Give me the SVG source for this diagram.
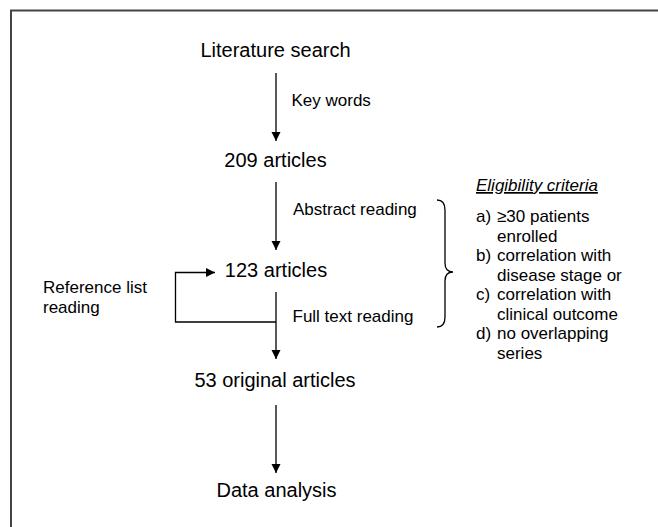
<svg xmlns="http://www.w3.org/2000/svg" width="658" height="527" viewBox="0 0 658 527">
<defs>
<style>
text{font-family:"Liberation Sans",Arial,sans-serif;fill:#000}
.big{font-size:20px;text-anchor:middle}
.sm{font-size:17px}
.conn{fill:none;stroke:#000;stroke-width:1.3}
</style>
<marker id="ah" markerUnits="userSpaceOnUse" markerWidth="10" markerHeight="10" viewBox="0 0 10 10" refX="9" refY="5" orient="auto">
<path d="M0,0.5 L9,5 L0,9.5 Z" fill="#000"/>
</marker>
</defs>
<rect width="658" height="527" fill="#fff"/>
<path d="M11,527 V10.5 H658" fill="none" stroke="#444" stroke-width="2"/>
<g id="connectors">
<path class="conn" d="M276,73 V141" marker-end="url(#ah)"/>
<path class="conn" d="M276,182 V250" marker-end="url(#ah)"/>
<path class="conn" d="M276,292 V359" marker-end="url(#ah)"/>
<path class="conn" d="M276,405 V473" marker-end="url(#ah)"/>
<path class="conn" d="M276,322 H175.5 V272.5 H215" marker-end="url(#ah)"/>
<path class="conn" d="M437,200 Q445,200 445,210 V263 Q445,272 453,272 Q445,272 445,281 V317 Q445,327 437,327" stroke-width="1"/>
</g>
<g id="literature-search"><text class="big" x="275.5" y="57">Literature search</text></g>
<g id="n209"><text class="big" x="275.5" y="166.5">209 articles</text></g>
<g id="n123"><text class="big" x="276" y="277">123 articles</text></g>
<g id="n53"><text class="big" x="275" y="387">53 original articles</text></g>
<g id="data-analysis"><text class="big" x="276.5" y="497">Data analysis</text></g>
<g id="labels">
<text class="sm" x="291.5" y="106">Key words</text>
<text class="sm" x="293" y="215">Abstract reading</text>
<text class="sm" x="292.5" y="322">Full text reading</text>
<text class="sm" x="43" y="293">Reference list</text>
<text class="sm" x="43" y="312.5">reading</text>
</g>
<g id="criteria">
<text class="sm" x="476" y="191" font-style="italic" text-decoration="underline">Eligibility criteria</text>
<text class="sm" x="476" y="222">a)</text><text class="sm" x="497" y="222">≥30 patients</text>
<text class="sm" x="497" y="241.5">enrolled</text>
<text class="sm" x="476" y="261">b)</text><text class="sm" x="497" y="261">correlation with</text>
<text class="sm" x="497" y="280.5">disease stage or</text>
<text class="sm" x="476" y="300">c)</text><text class="sm" x="497" y="300">correlation with</text>
<text class="sm" x="497" y="319.5">clinical outcome</text>
<text class="sm" x="476" y="339">d)</text><text class="sm" x="497" y="339">no overlapping</text>
<text class="sm" x="497" y="358.5">series</text>
</g>
</svg>
